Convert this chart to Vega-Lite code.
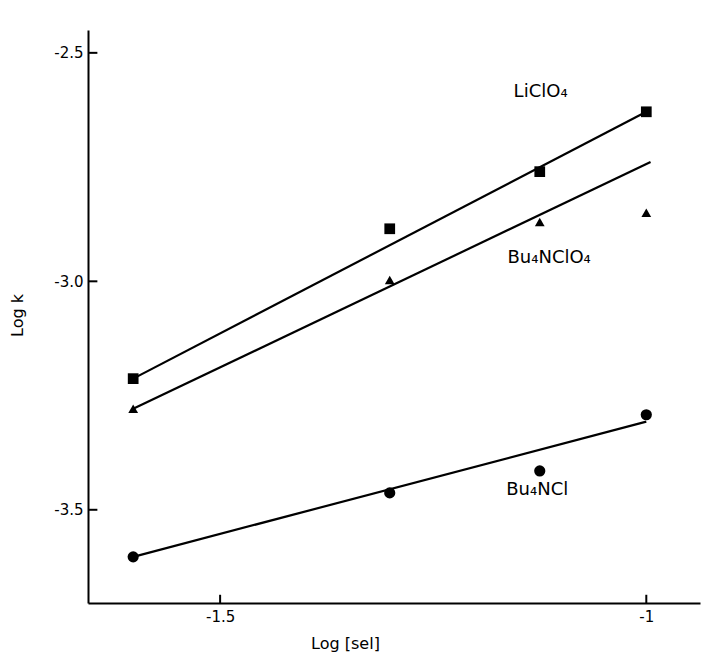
{
  "$schema": "https://vega.github.io/schema/vega-lite/v6.json",
  "autosize": "none",
  "width": 612,
  "height": 573,
  "padding": {"left": 88, "top": 30, "right": 5, "bottom": 51},
  "background": "white",
  "config": {
    "view": {"stroke": null},
    "font": "DejaVu Sans",
    "axis": {
      "domainColor": "black", "domainWidth": 2, "ticks": false,
      "labelColor": "black", "titleColor": "black", "labelFont": "DejaVu Sans", "titleFont": "DejaVu Sans",
      "labelFontSize": 15, "titleFontSize": 16, "titleFontWeight": "normal", "grid": false
    }
  },
  "datasets": {
    "points": [
      {"salt": "LiClO4", "logsel": -1.602, "logk": -3.213},
      {"salt": "LiClO4", "logsel": -1.301, "logk": -2.885},
      {"salt": "LiClO4", "logsel": -1.125, "logk": -2.760},
      {"salt": "LiClO4", "logsel": -1.0, "logk": -2.629},
      {"salt": "Bu4NClO4", "logsel": -1.602, "logk": -3.279},
      {"salt": "Bu4NClO4", "logsel": -1.301, "logk": -2.997},
      {"salt": "Bu4NClO4", "logsel": -1.125, "logk": -2.870},
      {"salt": "Bu4NClO4", "logsel": -1.0, "logk": -2.850},
      {"salt": "Bu4NCl", "logsel": -1.602, "logk": -3.603},
      {"salt": "Bu4NCl", "logsel": -1.301, "logk": -3.463},
      {"salt": "Bu4NCl", "logsel": -1.125, "logk": -3.415},
      {"salt": "Bu4NCl", "logsel": -1.0, "logk": -3.292}
    ],
    "fits": [
      {"salt": "LiClO4", "logsel": -1.602, "logk": -3.213},
      {"salt": "LiClO4", "logsel": -1.0, "logk": -2.629},
      {"salt": "Bu4NClO4", "logsel": -1.602, "logk": -3.279},
      {"salt": "Bu4NClO4", "logsel": -0.995, "logk": -2.739},
      {"salt": "Bu4NCl", "logsel": -1.602, "logk": -3.603},
      {"salt": "Bu4NCl", "logsel": -1.0, "logk": -3.307}
    ],
    "labels": [
      {"text": "LiClO₄", "logsel": -1.124, "logk": -2.585},
      {"text": "Bu₄NClO₄", "logsel": -1.114, "logk": -2.949},
      {"text": "Bu₄NCl", "logsel": -1.128, "logk": -3.456}
    ],
    "xticks": [{"v": -1.5}, {"v": -1.0}],
    "yticks": [{"v": -3.5}, {"v": -3.0}, {"v": -2.5}]
  },
  "layer": [
    {
      "data": {"name": "fits"},
      "mark": {"type": "line", "color": "black", "strokeWidth": 2.2},
      "encoding": {
        "x": {"field": "logsel", "type": "quantitative",
              "scale": {"domain": [-1.655, -0.937], "nice": false, "zero": false},
              "axis": {"values": [-1.5, -1], "labelExpr": "datum.value == -1 ? '-1' : '-1.5'",
                       "labelPadding": 6, "title": "Log [sel]",
                       "titleX": 257, "titleY": 40, "titleBaseline": "middle"}},
        "y": {"field": "logk", "type": "quantitative",
              "scale": {"domain": [-3.704, -2.45], "nice": false, "zero": false},
              "axis": {"values": [-3.5, -3.0, -2.5], "labelExpr": "'-' + format(-datum.value, '.1f')",
                       "labelPadding": 5, "title": "Log k",
                       "titleX": -71, "titleY": 285, "titleBaseline": "middle"}},
        "detail": {"field": "salt"}
      }
    },
    {
      "data": {"name": "points"},
      "transform": [{"filter": "datum.salt == 'LiClO4'"}],
      "mark": {"type": "point", "shape": "square", "filled": true, "color": "black", "opacity": 1, "size": 115},
      "encoding": {"x": {"field": "logsel", "type": "quantitative"}, "y": {"field": "logk", "type": "quantitative"}}
    },
    {
      "data": {"name": "points"},
      "transform": [{"filter": "datum.salt == 'Bu4NClO4'"}],
      "mark": {"type": "point", "shape": "triangle-up", "filled": true, "color": "black", "opacity": 1, "size": 95},
      "encoding": {"x": {"field": "logsel", "type": "quantitative"}, "y": {"field": "logk", "type": "quantitative"}}
    },
    {
      "data": {"name": "points"},
      "transform": [{"filter": "datum.salt == 'Bu4NCl'"}],
      "mark": {"type": "point", "shape": "circle", "filled": true, "color": "black", "opacity": 1, "size": 125},
      "encoding": {"x": {"field": "logsel", "type": "quantitative"}, "y": {"field": "logk", "type": "quantitative"}}
    },
    {
      "data": {"name": "labels"},
      "mark": {"type": "text", "font": "DejaVu Sans", "fontSize": 18, "color": "black"},
      "encoding": {
        "x": {"field": "logsel", "type": "quantitative"},
        "y": {"field": "logk", "type": "quantitative"},
        "text": {"field": "text"}
      }
    },
    {
      "data": {"name": "xticks"},
      "mark": {"type": "rule", "color": "black", "strokeWidth": 2},
      "encoding": {"x": {"field": "v", "type": "quantitative"}, "y": {"datum": -3.704}, "y2": {"datum": -3.686}}
    },
    {
      "data": {"name": "yticks"},
      "mark": {"type": "rule", "color": "black", "strokeWidth": 2},
      "encoding": {"y": {"field": "v", "type": "quantitative"}, "x": {"datum": -1.655}, "x2": {"datum": -1.644}}
    },
    {
      "mark": {"type": "point", "shape": "triangle-up", "filled": true, "color": "black", "size": 70, "opacity": 1},
      "encoding": {"x": {"datum": -1.655}, "y": {"datum": -2.45}}
    },
    {
      "mark": {"type": "point", "shape": "triangle-right", "filled": true, "color": "black", "size": 70, "opacity": 1},
      "encoding": {"x": {"datum": -0.937}, "y": {"datum": -3.704}}
    }
  ]
}
